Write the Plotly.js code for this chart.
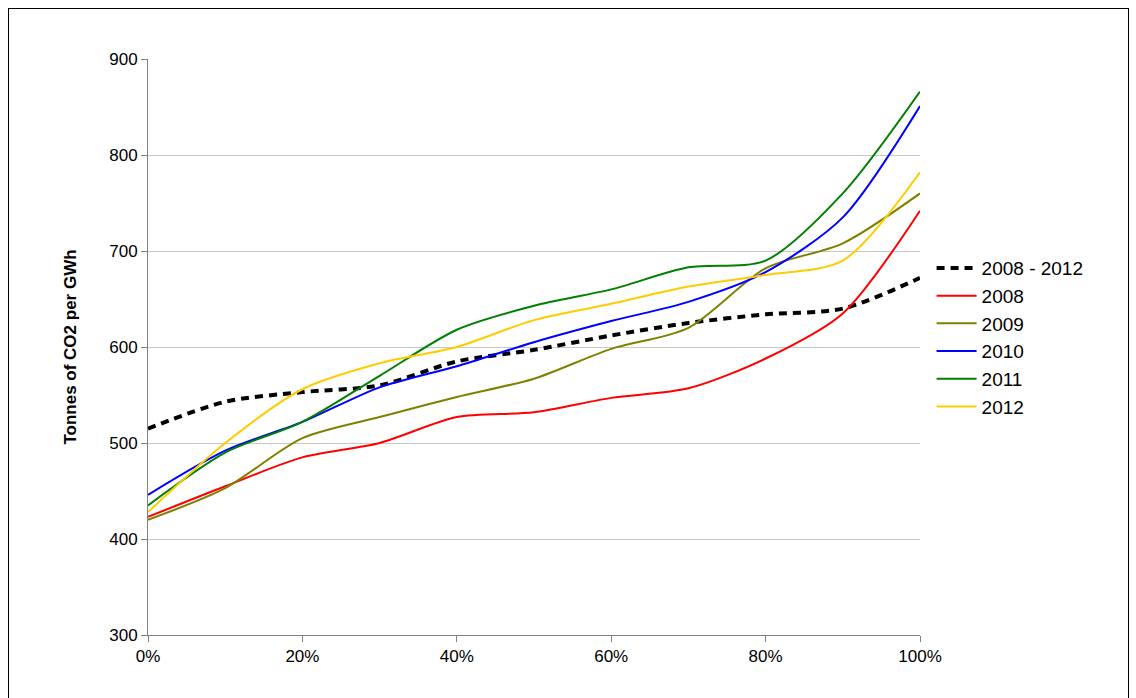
<!DOCTYPE html>
<html>
<head>
<script src="https://cdn.plot.ly/plotly-3.0.1.min.js"></script>
<style>
body { margin: 0; background: #fff; }
#frame { position: absolute; left: 8px; top: 8px; width: 1119px; height: 700px; border: 1px solid #000; }
#chart { position: absolute; left: 0; top: 0; width: 1136px; height: 698px; }
</style>
</head>
<body>
<div id="frame"></div>
<div id="chart"></div>
<script>
var xs = [0, 0.1, 0.2, 0.3, 0.4, 0.5, 0.6, 0.7, 0.8, 0.9, 1.0];
var names = ['2008 - 2012', '2008', '2009', '2010', '2011', '2012'];
var colors = ['#000000', '#ff0000', '#808000', '#0000ff', '#008000', '#ffcc00'];
var avg = [515, 543, 553, 560, 585, 597, 612, 625, 634, 640, 672];
var y2008 = [423, 455, 485, 500, 527, 532, 547, 557, 588, 635, 742];
var y2009 = [420, 453, 505, 527, 548, 567, 598, 620, 682, 708, 760];
var y2010 = [446, 492, 522, 558, 580, 605, 627, 647, 678, 735, 851];
var y2011 = [435, 490, 522, 570, 618, 643, 660, 683, 690, 760, 866];
var y2012 = [428, 500, 556, 583, 600, 628, 645, 663, 675, 690, 782];
var series = [avg, y2008, y2009, y2010, y2011, y2012];

var data = series.map(function (s, i) {
  return {
    x: xs, y: s, name: names[i], mode: 'lines', type: 'scatter',
    line: { color: colors[i], width: i === 0 ? 4 : 2, dash: i === 0 ? '8px,6px' : 'solid', shape: 'spline', smoothing: 0.8 }
  };
});

var layout = {
  width: 1136, height: 698,
  margin: { l: 148, r: 216, t: 59, b: 63 },
  paper_bgcolor: 'rgba(0,0,0,0)', plot_bgcolor: '#fff',
  font: { family: 'Arial, Liberation Sans, sans-serif', size: 17, color: '#000' },
  showlegend: true,
  legend: { x: 1.015, y: 0.67, xanchor: 'left', yanchor: 'top', font: { size: 19 }, itemwidth: 40 },
  xaxis: {
    range: [0, 1], tickformat: '.0%', dtick: 0.2, showgrid: false, zeroline: false,
    showline: true, linecolor: '#808080', ticks: 'outside', tickcolor: '#808080', ticklen: 6
  },
  yaxis: {
    range: [300, 900], dtick: 100, gridcolor: '#c8c8c8', zeroline: false,
    showline: true, linecolor: '#808080', ticks: 'outside', tickcolor: '#808080', ticklen: 6,
    title: { text: '<b>Tonnes of CO2 per GWh</b>', font: { size: 17 }, standoff: 28 }
  }
};
Plotly.newPlot('chart', data, layout, { displayModeBar: false });
</script>
</body>
</html>
